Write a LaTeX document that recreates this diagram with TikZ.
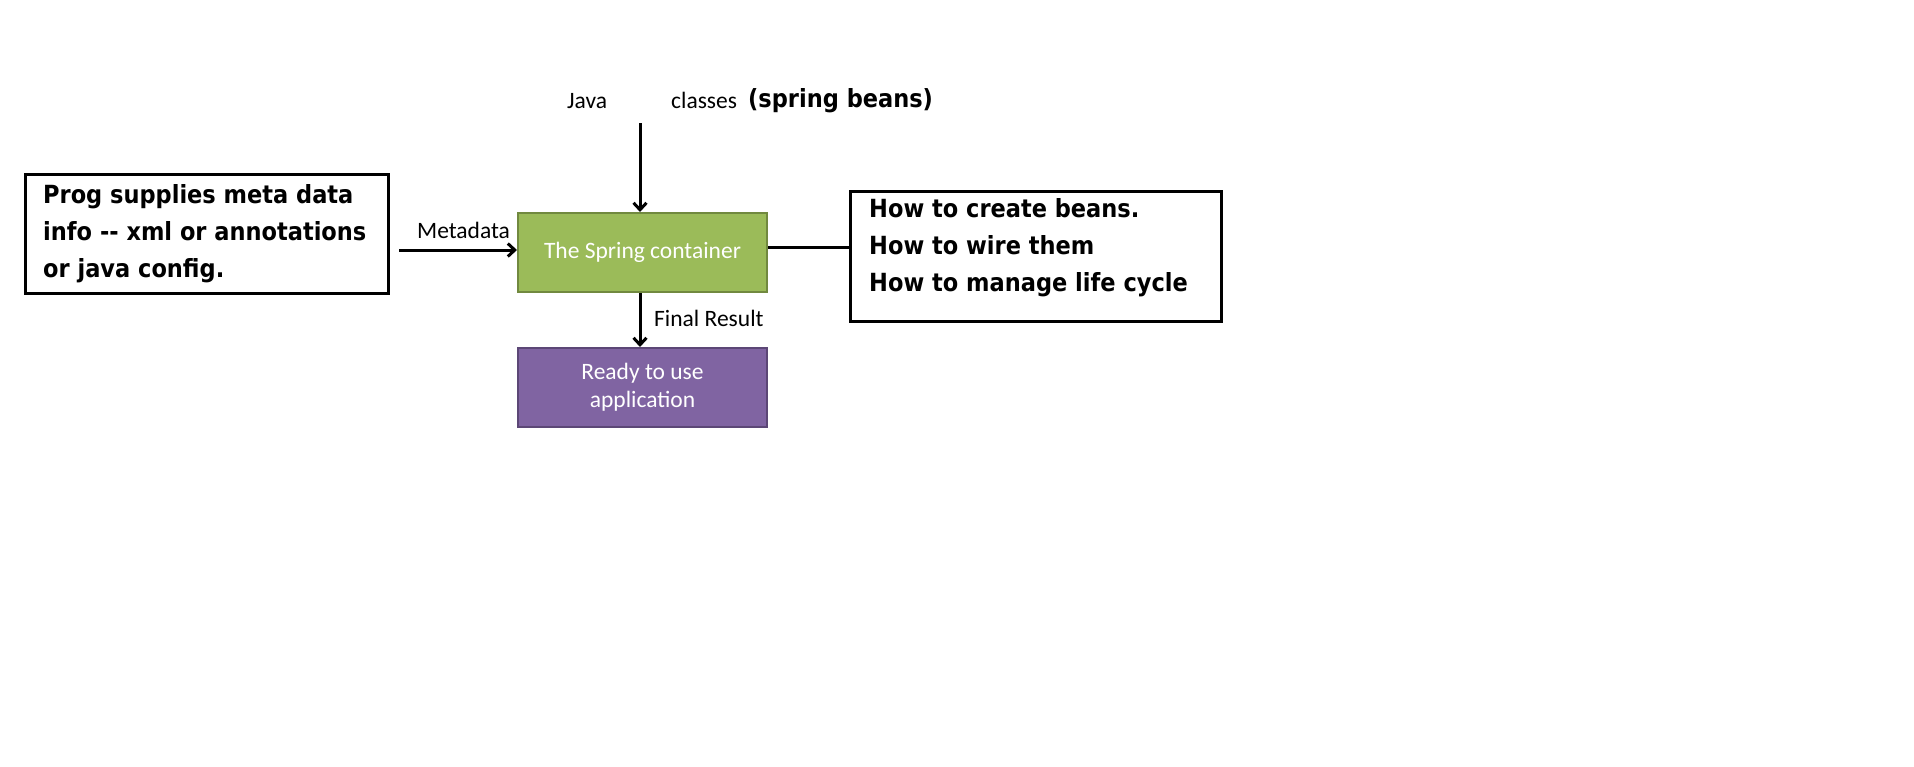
\documentclass[tikz,border=0pt]{standalone}
\usepackage{fontspec}
\setmainfont{Carlito}
\newfontfamily\tb[FakeStretch=0.9]{DejaVu Sans}
\usetikzlibrary{arrows.meta}
\definecolor{sgreen}{HTML}{9BBB59}
\definecolor{sgreenb}{HTML}{71893F}
\definecolor{spurple}{HTML}{8064A2}
\definecolor{spurpleb}{HTML}{5C4776}
\begin{document}
\begin{tikzpicture}[x=1pt,y=-1pt,
  blackbox/.style={draw=black, line width=3pt, inner sep=0pt},
  greenbox/.style={draw=sgreenb, fill=sgreen, line width=2pt, minimum width=249pt, minimum height=79pt, inner sep=0pt, text=white, font=\fontsize{23.5}{28}\selectfont},
  purplebox/.style={draw=spurpleb, fill=spurple, line width=2pt, minimum width=249pt, minimum height=79pt, inner sep=0pt, text=white, align=center, font=\fontsize{23.5}{28}\selectfont},
  boldtxt/.style={font=\tb\bfseries\fontsize{25}{37}\selectfont, align=left, inner sep=0pt, anchor=north west},
  regtxt/.style={font=\fontsize{23.5}{28}\selectfont, inner sep=0pt, anchor=base west},
  arr/.style={line width=3pt, -{Straight Barb[length=7pt,width=13pt]}},
  conn/.style={line width=3pt}]
\fill[white] (0,0) rectangle (1914,766);
% boxes
\node[blackbox, minimum width=363pt, minimum height=119pt] (lbox) at (207,234) {};
\node[boldtxt] (ltext) at (43,184) {Prog supplies meta data\\info -- xml or annotations\\or java config.};
\node[greenbox] (spring) at (642.5,252.5) {\raisebox{-2pt}{The Spring container}};
\node[purplebox] (ready) at (642.5,387.5) {Ready to use\\application};
\node[blackbox, minimum width=371pt, minimum height=130pt] (rbox) at (1036,256.5) {};
\node[boldtxt] (rtext) at (869,198) {How to create beans.\\How to wire them\\How to manage life cycle};
% top labels
\node[regtxt] (java) at (567,108) {Java};
\node[regtxt] (classes) at (671,108) {classes};
\node[regtxt, font=\tb\bfseries\fontsize{25}{28}\selectfont] (beans) at (748,107) {(spring beans)};
\coordinate (topstart) at (640,123);
% labels on connectors
\node[regtxt] (meta) at (417,238) {Metadata};
\node[regtxt] (final) at (654,326) {Final Result};
% connectors
\draw[arr] (topstart) -- (topstart |- spring.north);
\draw[arr] ([xshift=9pt,yshift=-16pt]lbox.east) -- ([yshift=-16pt]lbox.east -| spring.west);
\draw[arr] ([xshift=-2.5pt]spring.south) -- ([xshift=-2.5pt]ready.north);
\draw[conn] ([yshift=5.5pt]spring.east) -- ([yshift=5.5pt]spring.east -| rbox.west);
\end{tikzpicture}
\end{document}
